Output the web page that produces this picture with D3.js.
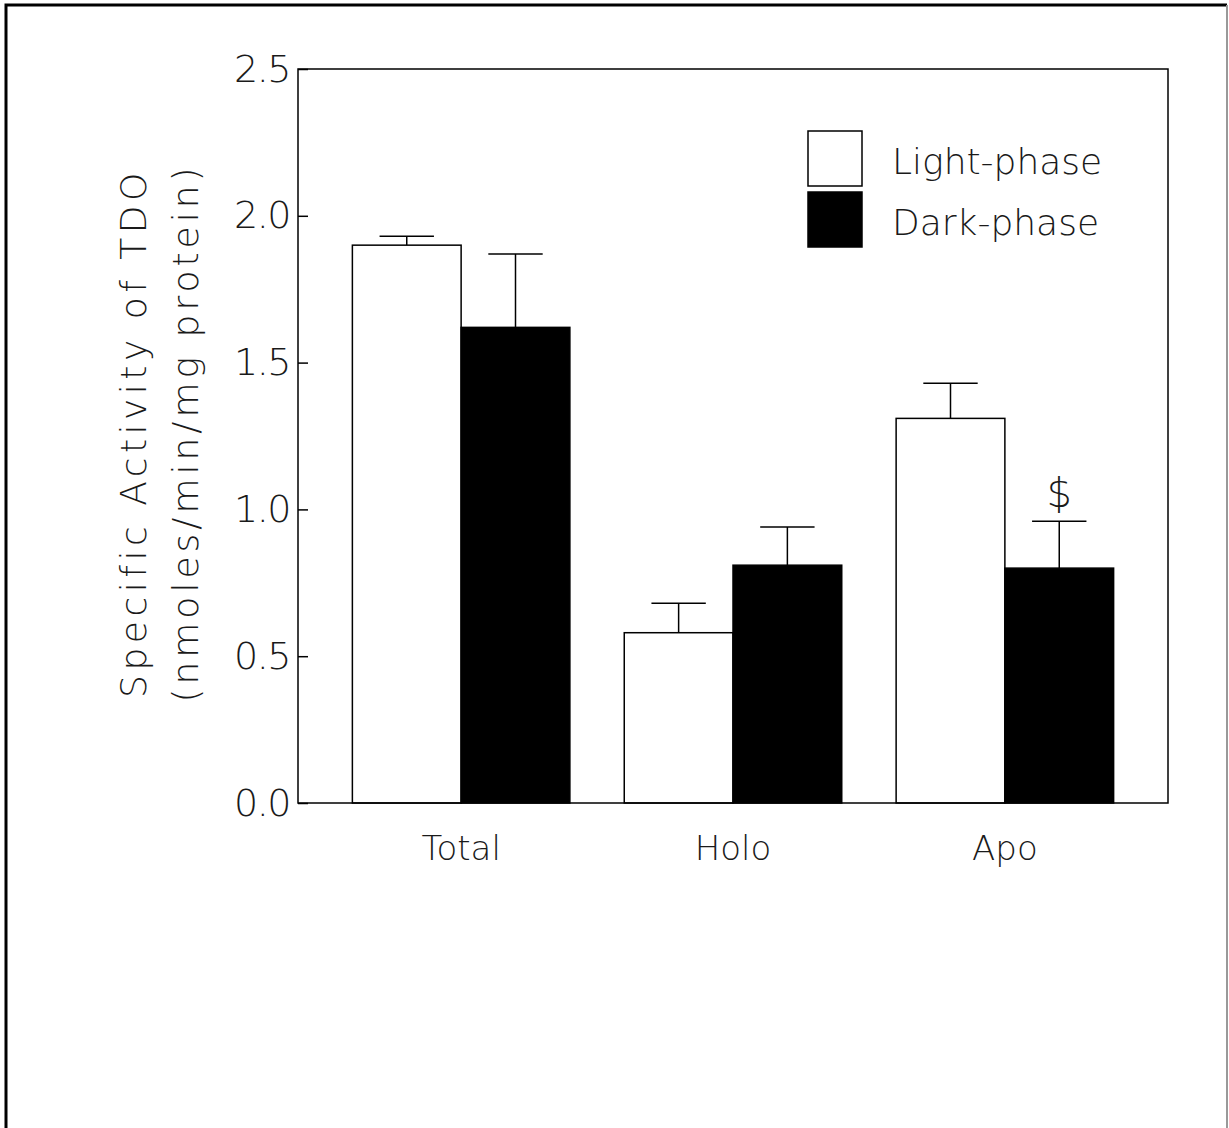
<!DOCTYPE html>
<html>
<head>
<meta charset="utf-8">
<script src="https://cdn.jsdelivr.net/npm/d3@7"></script>
<style>
  html, body { margin: 0; padding: 0; background: #fff; }
  svg text { font-family: "DejaVu Sans", sans-serif; font-weight: 200; fill: #1a1a1a; }
</style>
</head>
<body>
<svg id="chart" width="1229" height="1128"></svg>
<script>
// TDO specific activity by enzyme form, light vs dark phase (mean ± SE)
const categories = ["Total", "Holo", "Apo"];
const phases = ["Light-phase", "Dark-phase"];
const lightMeans = [1.90, 0.58, 1.31];
const lightSE    = [0.03, 0.10, 0.12];
const darkMeans  = [1.62, 0.81, 0.80];
const darkSE     = [0.25, 0.13, 0.16];
const yTicks = [0.0, 0.5, 1.0, 1.5, 2.0, 2.5];
const markers = [{ category: "Apo", phase: "Dark-phase", symbol: "$" }];

const svg = d3.select("#chart");
const W = 1229, H = 1128;
const plot = { left: 298, right: 1168, top: 69, bottom: 803 };

// page border
svg.append("path")
  .attr("d", `M6,${H} L6,5 L1227,5`)
  .attr("fill", "none").attr("stroke", "#000").attr("stroke-width", 3);
svg.append("line")
  .attr("x1", 1227).attr("x2", 1227).attr("y1", 5).attr("y2", H)
  .attr("stroke", "#999").attr("stroke-width", 2);

const rows = categories.map((c, i) => ({
  category: c,
  values: [
    { phase: phases[0], mean: lightMeans[i], se: lightSE[i] },
    { phase: phases[1], mean: darkMeans[i],  se: darkSE[i] }
  ]
}));

const x0 = d3.scaleBand().domain(categories)
  .range([plot.left, plot.right]).paddingInner(0.2).paddingOuter(0.2);
const x1 = d3.scaleBand().domain(phases).range([0, x0.bandwidth()]).padding(0);
const y = d3.scaleLinear().domain([0, 2.5]).range([plot.bottom, plot.top]);
const fill = d3.scaleOrdinal().domain(phases).range(["#fff", "#000"]);

// bars and error bars
const groups = svg.append("g").selectAll("g").data(rows).join("g")
  .attr("transform", d => `translate(${x0(d.category)},0)`);

groups.selectAll("line.err").data(d => d.values).join("line")
  .attr("class", "err")
  .attr("x1", d => x1(d.phase) + x1.bandwidth() / 2)
  .attr("x2", d => x1(d.phase) + x1.bandwidth() / 2)
  .attr("y1", d => y(d.mean))
  .attr("y2", d => y(d.mean + d.se))
  .attr("stroke", "#000").attr("stroke-width", 1.5);

groups.selectAll("line.cap").data(d => d.values).join("line")
  .attr("class", "cap")
  .attr("x1", d => x1(d.phase) + x1.bandwidth() * 0.25)
  .attr("x2", d => x1(d.phase) + x1.bandwidth() * 0.75)
  .attr("y1", d => y(d.mean + d.se))
  .attr("y2", d => y(d.mean + d.se))
  .attr("stroke", "#000").attr("stroke-width", 1.5);

groups.selectAll("rect").data(d => d.values).join("rect")
  .attr("x", d => x1(d.phase))
  .attr("width", x1.bandwidth())
  .attr("y", d => y(d.mean))
  .attr("height", d => y(0) - y(d.mean))
  .attr("fill", d => fill(d.phase))
  .attr("stroke", "#000").attr("stroke-width", 1.5);

// significance marker
markers.forEach(m => {
  const row = rows.find(r => r.category === m.category);
  const v = row.values.find(d => d.phase === m.phase);
  svg.append("text")
    .attr("x", x0(m.category) + x1(m.phase) + x1.bandwidth() / 2)
    .attr("y", y(v.mean + v.se) - 14)
    .attr("text-anchor", "middle")
    .attr("font-size", 40)
    .text(m.symbol);
});

// plot frame
svg.append("rect")
  .attr("x", plot.left).attr("y", plot.top)
  .attr("width", plot.right - plot.left).attr("height", plot.bottom - plot.top)
  .attr("fill", "none").attr("stroke", "#000").attr("stroke-width", 1.5);

// y axis with inward ticks
const yAxis = svg.append("g")
  .attr("transform", `translate(${plot.left},0)`)
  .call(d3.axisLeft(y).tickValues(yTicks).tickFormat(d3.format(".1f"))
    .tickSize(-10).tickPadding(8));
yAxis.select(".domain").remove();
yAxis.selectAll(".tick line").attr("stroke", "#000").attr("stroke-width", 1.5);
yAxis.selectAll(".tick text")
  .attr("font-size", 38).attr("font-family", "DejaVu Sans")
  .attr("font-weight", 200).attr("fill", "#1a1a1a")
  .attr("letter-spacing", -1.5);

// category labels
svg.append("g").selectAll("text").data(categories).join("text")
  .attr("x", d => x0(d) + x0.bandwidth() / 2)
  .attr("y", 860)
  .attr("text-anchor", "middle")
  .attr("font-size", 34)
  .text(d => d);

// y axis title
const title = svg.append("g").attr("transform", "translate(0,433) rotate(-90)");
title.append("text").attr("x", 0).attr("y", 146)
  .attr("text-anchor", "middle").attr("font-size", 36)
  .attr("letter-spacing", 4.5)
  .text("Specific Activity of TDO");
title.append("text").attr("x", 0).attr("y", 198)
  .attr("text-anchor", "middle").attr("font-size", 36)
  .attr("letter-spacing", 4)
  .text("(nmoles/min/mg protein)");

// legend
const legend = svg.append("g").selectAll("g").data(phases).join("g")
  .attr("transform", (d, i) => `translate(808,${131 + i * 61})`);
legend.append("rect")
  .attr("width", 54).attr("height", 55)
  .attr("fill", d => fill(d))
  .attr("stroke", "#000").attr("stroke-width", 1.5);
legend.append("text")
  .attr("x", 84).attr("y", 43)
  .attr("font-size", 36)
  .text(d => d);
</script>
</body>
</html>
